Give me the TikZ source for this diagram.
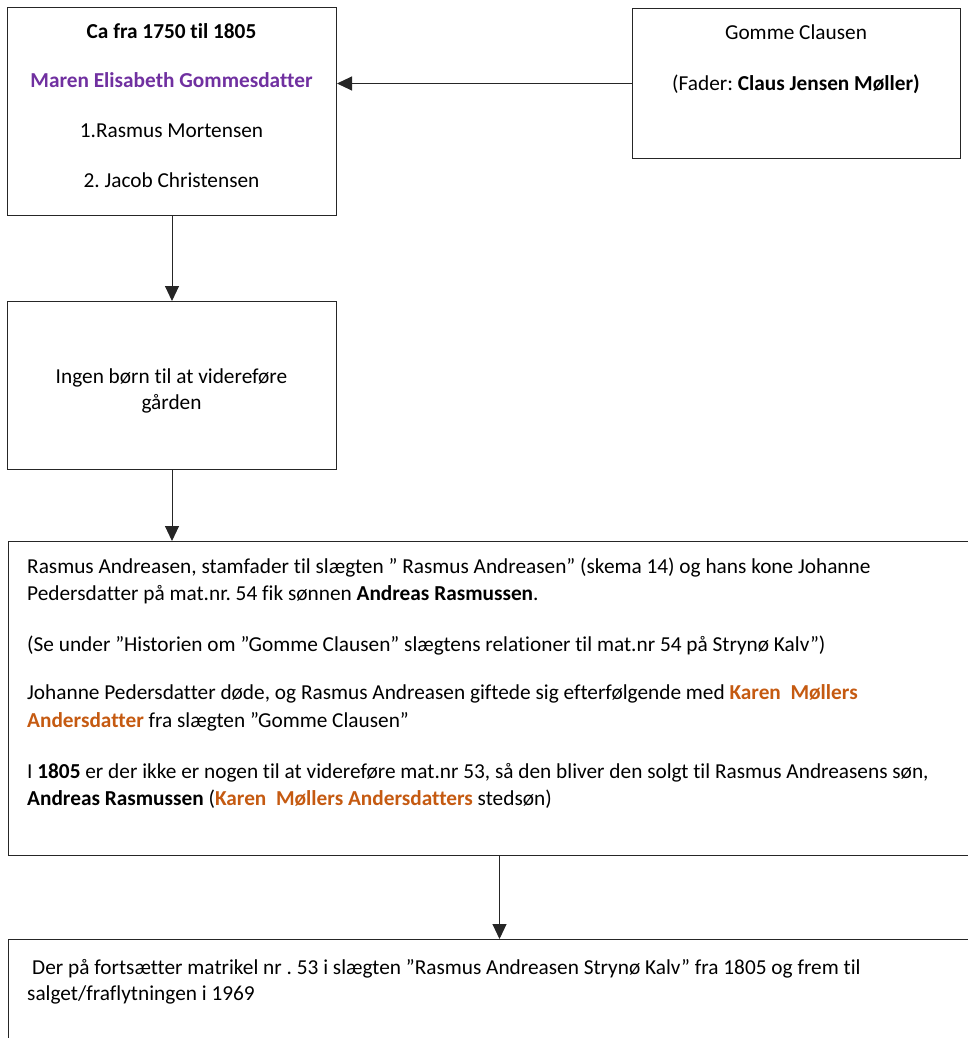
\documentclass[tikz,border=0pt]{standalone}
\usepackage{fontspec}
\setmainfont{Carlito}[Ligatures=NoCommon]
\usetikzlibrary{arrows.meta}
\frenchspacing
\definecolor{nameviolet}{HTML}{7030A0}
\definecolor{nameorange}{HTML}{C55A11}
\newcommand{\hl}[1]{\textbf{\textcolor{nameorange}{#1}}}
\tikzset{
  box/.style={draw=black!85, line width=1pt, anchor=north west, inner sep=0pt},
  line/.style={font=\fontsize{21.3}{26}\selectfont, inner sep=0pt},
  conn/.style={draw=black!85, line width=1pt, -{Triangle[length=15pt,width=14pt]}},
}
\begin{document}
\begin{tikzpicture}[x=1pt,y=-1pt]
  \useasboundingbox (0,0) rectangle (968,1038);
  \clip (0,0) rectangle (968,1038);

  % Boxes
  \node[box, minimum width=329pt, minimum height=208pt] (maren) at (7,7) {};
  \node[box, minimum width=328pt, minimum height=150pt] (gomme) at (632,8) {};
  \node[box, minimum width=329pt, minimum height=168pt] (ingen) at (7,301) {};
  \node[box, minimum width=982pt, minimum height=314pt] (history) at (8,541) {};
  \node[box, minimum width=982pt, minimum height=140pt] (salg) at (8,939) {};

  % Arrows
  \draw[conn] (gomme.west) -- (gomme.west -| maren.east);
  \draw[conn] (maren.south) -- (ingen.north);
  \draw[conn] (ingen.south) -- (ingen.south |- history.north);
  \draw[conn] (history.south) -- (salg.north);

  % Labels
  \node[line, anchor=base] (period) at (171.5,39) {\textbf{Ca fra 1750 til 1805}};
  \node[line, anchor=base] (maren1) at (171.5,88) {\textbf{\textcolor{nameviolet}{Maren Elisabeth Gommesdatter}}};
  \node[line, anchor=base] (maren2) at (171.5,138) {1.Rasmus Mortensen};
  \node[line, anchor=base] (maren3) at (171.5,187) {2. Jacob Christensen};

  \node[line, anchor=base] (gomme1) at (796,40) {Gomme Clausen};
  \node[line, anchor=base] (gomme2) at (796,91) {(Fader: \textbf{Claus Jensen Møller)}};

  \node[line, anchor=base] (ingen1) at (171.5,383) {Ingen børn til at videreføre};
  \node[line, anchor=base] (ingen2) at (171.5,409) {gården};

  \node[line, anchor=base west] (hist1) at (27,573) {Rasmus Andreasen, stamfader til slægten ” Rasmus Andreasen” (skema 14) og hans kone Johanne};
  \node[line, anchor=base west] (hist2) at (27,600) {Pedersdatter på mat.nr. 54 fik sønnen \textbf{Andreas Rasmussen}.};
  \node[line, anchor=base west] (hist3) at (27,651) {(Se under ”Historien om ”Gomme Clausen” slægtens relationer til mat.nr 54 på Strynø Kalv”)};
  \node[line, anchor=base west] (hist4) at (27,699) {Johanne Pedersdatter døde, og Rasmus Andreasen giftede sig efterfølgende med \hl{Karen\ \ Møllers}};
  \node[line, anchor=base west] (hist5) at (27,727) {\hl{Andersdatter} fra slægten ”Gomme Clausen”};
  \node[line, anchor=base west] (hist6) at (27,778) {I \textbf{1805} er der ikke er nogen til at videreføre mat.nr 53, så den bliver den solgt til Rasmus Andreasens søn,};
  \node[line, anchor=base west] (hist7) at (27,805) {\textbf{Andreas Rasmussen} (\hl{Karen\ \ Møllers Andersdatters} stedsøn)};

  \node[line, anchor=base west] (salg1) at (32,974) {Der på fortsætter matrikel nr . 53 i slægten ”Rasmus Andreasen Strynø Kalv” fra 1805 og frem til};
  \node[line, anchor=base west] (salg2) at (27,1000) {salget/fraflytningen i 1969};
\end{tikzpicture}
\end{document}
